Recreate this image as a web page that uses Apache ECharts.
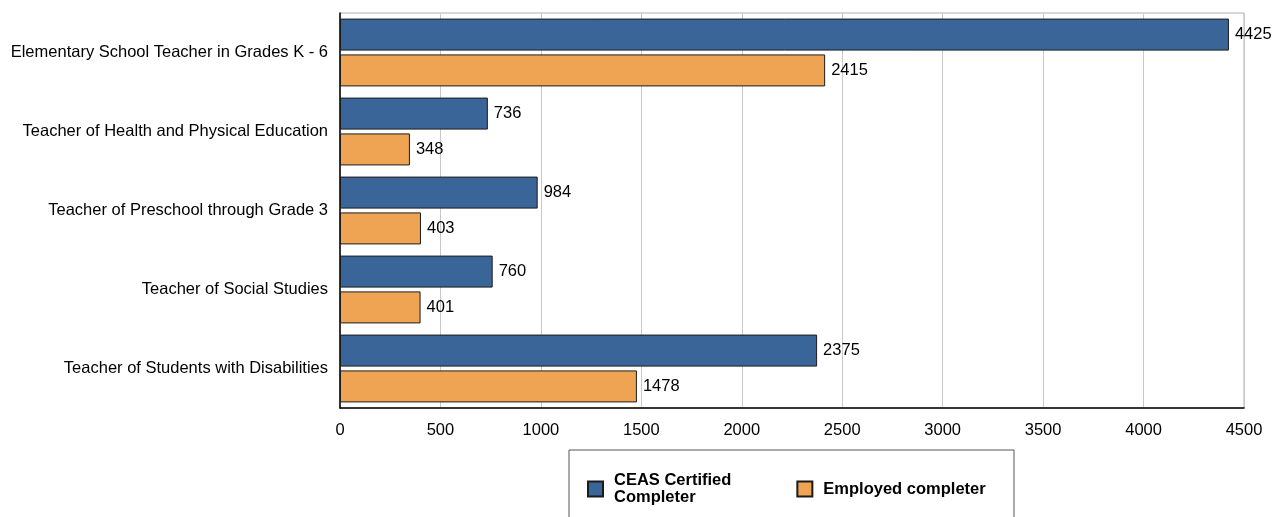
<!DOCTYPE html>
<html>
<head>
<meta charset="utf-8">
<script src="https://cdn.jsdelivr.net/npm/echarts@6/dist/echarts.min.js"></script>
<style>
  html, body { margin: 0; padding: 0; background: #fff; }
  #chart { width: 1279px; height: 517px; }
</style>
</head>
<body>
<div id="chart"></div>
<script>
// categories, top to bottom
var categories = [
  'Elementary School Teacher in Grades K - 6',
  'Teacher of Health and Physical Education',
  'Teacher of Preschool through Grade 3',
  'Teacher of Social Studies',
  'Teacher of Students with Disabilities'
];
var certified = [4425, 736, 984, 760, 2375];
var employed = [2415, 348, 403, 401, 1478];
var seriesNames = ['CEAS Certified\nCompleter', 'Employed completer'];

var chart = echarts.init(document.getElementById('chart'));

var labelStyle = {
  show: true,
  position: 'right',
  distance: 6,
  color: '#000',
  fontFamily: 'Liberation Sans, Arial, sans-serif',
  fontSize: 16.5
};

chart.setOption({
  animation: false,
  textStyle: { fontFamily: 'Liberation Sans, Arial, sans-serif' },
  grid: {
    left: 340,
    right: 35,
    top: 13,
    bottom: 109,
    show: true,
    borderColor: '#b0b0b0',
    borderWidth: 1
  },
  legend: {
    left: 582,
    top: 467,
    itemWidth: 15,
    itemHeight: 15,
    itemGap: 65,
    icon: 'rect',
    textStyle: {
      fontWeight: 'bold',
      fontSize: 16.5,
      color: '#000',
      lineHeight: 17,
      padding: [0, 0, 0, 6]
    },
    data: seriesNames
  },
  graphic: [{
    type: 'rect',
    shape: { x: 569, y: 450, width: 445, height: 80 },
    style: { fill: 'none', stroke: '#555', lineWidth: 1 }
  }],
  xAxis: {
    type: 'value',
    min: 0,
    max: 4500,
    interval: 500,
    axisLine: { show: true, lineStyle: { color: '#000', width: 1.5 } },
    axisTick: { show: false },
    axisLabel: {
      color: '#000',
      fontSize: 16.5,
      margin: 14,
      formatter: function (v) { return String(v); }
    },
    splitLine: { show: true, lineStyle: { color: '#c8c8c8' } }
  },
  yAxis: {
    type: 'category',
    inverse: true,
    data: categories,
    axisLine: { show: true, lineStyle: { color: '#000', width: 1.5 } },
    axisTick: { show: false },
    axisLabel: { color: '#000', fontSize: 16.5, margin: 12 }
  },
  series: [{
    name: seriesNames[0],
    type: 'bar',
    data: certified,
    barWidth: 32,
    barGap: '12%',
    itemStyle: { color: '#3A6598', borderColor: '#1b1b1b', borderWidth: 1 },
    label: labelStyle
  }, {
    name: seriesNames[1],
    type: 'bar',
    data: employed,
    barWidth: 32,
    itemStyle: { color: '#EFA453', borderColor: '#1b1b1b', borderWidth: 1 },
    label: labelStyle
  }]
});
</script>
</body>
</html>
